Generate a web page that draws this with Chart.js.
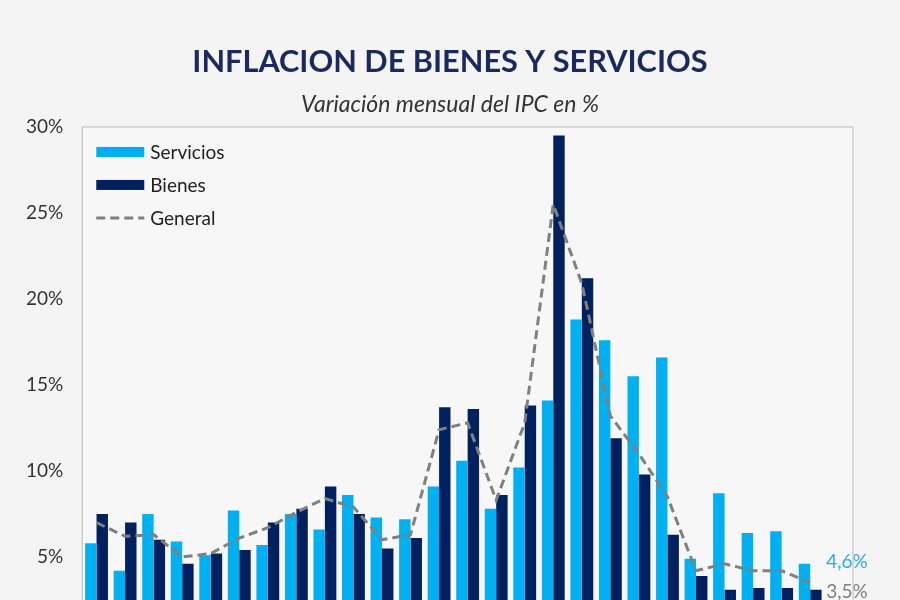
<!DOCTYPE html>
<html lang="es">
<head>
  <meta charset="UTF-8">
  <title>Inflacion de bienes y servicios</title>
  <script src="https://cdn.jsdelivr.net/npm/chart.js"></script>
  <style>
    html, body {
      margin: 0;
      padding: 0;
      background-color: #f4f4f4;
      overflow: hidden;
    }

    #wrap {
      width: 900px;
      height: 680px;
    }
  </style>
</head>
<body>
  <div id="wrap"><canvas id="ipcChart"></canvas></div>

  <script>
    // meses (el ultimo queda vacio, como en el original)
    const meses = ['ago-22', 'sep-22', 'oct-22', 'nov-22', 'dic-22', 'ene-23', 'feb-23', 'mar-23',
      'abr-23', 'may-23', 'jun-23', 'jul-23', 'ago-23', 'sep-23', 'oct-23', 'nov-23', 'dic-23',
      'ene-24', 'feb-24', 'mar-24', 'abr-24', 'may-24', 'jun-24', 'jul-24', 'ago-24', 'sep-24', ''];

    const servicios = [5.8, 4.2, 7.5, 5.9, 5.1, 7.7, 5.7, 7.5, 6.6, 8.6, 7.3, 7.2, 9.1, 10.6, 7.8, 10.2,
      14.1, 18.8, 17.6, 15.5, 16.6, 4.9, 8.7, 6.4, 6.5, 4.6, null];
    const bienes = [7.5, 7.0, 6.0, 4.6, 5.2, 5.4, 7.0, 7.8, 9.1, 7.5, 5.5, 6.1, 13.7, 13.6, 8.6, 13.8,
      29.5, 21.2, 11.9, 9.8, 6.3, 3.9, 3.1, 3.2, 3.2, 3.1, null];
    const general = [7.0, 6.2, 6.3, 5.0, 5.2, 6.1, 6.7, 7.6, 8.4, 7.9, 6.0, 6.3, 12.4, 12.8, 8.3, 12.8,
      25.5, 20.9, 13.2, 11.0, 8.5, 4.2, 4.6, 4.2, 4.2, 3.5, null];

    const yMin = 0;
    const yMax = 30;
    const yStep = 5;

    const FONT = 'Lato';
    const celeste = '#00b0f0';
    const azul = '#002060';
    const gris = '#808080';

    const fmt = v => v.toFixed(1).replace('.', ',') + '%';

    // fondo y marco del area del grafico
    const frame = {
      id: 'frame',
      beforeDraw(chart) {
        const { ctx, chartArea: a } = chart;
        ctx.save();
        ctx.fillStyle = '#f7f7f7';
        ctx.fillRect(a.left, a.top, a.right - a.left, a.bottom - a.top);
        ctx.restore();
      },
      afterDraw(chart) {
        const { ctx, chartArea: a } = chart;
        ctx.save();
        ctx.strokeStyle = '#c4c4c4';
        ctx.lineWidth = 1.2;
        ctx.strokeRect(a.left, a.top, a.right - a.left, a.bottom - a.top);
        ctx.restore();
      }
    };

    // leyenda dentro del area, arriba a la izquierda
    const innerLegend = {
      id: 'innerLegend',
      afterDraw(chart) {
        const { ctx, chartArea: a } = chart;
        const x0 = a.left + 14;
        const w = 48;
        ctx.save();
        ctx.font = '19px ' + FONT;
        ctx.textBaseline = 'middle';
        chart.data.datasets.slice().sort((p, q) => p.legendPos - q.legendPos).forEach((ds, i) => {
          const y = a.top + 25 + i * 33;
          if (ds.type === 'line') {
            ctx.strokeStyle = ds.borderColor;
            ctx.lineWidth = 3;
            ctx.setLineDash(ds.borderDash);
            ctx.beginPath();
            ctx.moveTo(x0, y);
            ctx.lineTo(x0 + w, y);
            ctx.stroke();
            ctx.setLineDash([]);
          } else {
            ctx.fillStyle = ds.backgroundColor;
            ctx.fillRect(x0, y - 5, w, 10);
          }
          ctx.fillStyle = '#222';
          ctx.fillText(ds.label, x0 + w + 6, y + 1);
        });
        ctx.restore();
      }
    };

    // etiquetas del ultimo dato
    const endLabels = {
      id: 'endLabels',
      afterDatasetsDraw(chart) {
        const { ctx, scales: { x, y } } = chart;
        let last = general.length - 1;
        while (last > 0 && general[last] === null) last--;
        const px = x.getPixelForValue(last) + 16;
        ctx.save();
        ctx.font = '19px ' + FONT;
        ctx.textBaseline = 'middle';
        ctx.textAlign = 'left';
        ctx.fillStyle = '#29aee6';
        ctx.fillText(fmt(servicios[last]), px, y.getPixelForValue(servicios[last]) - 2);
        ctx.fillStyle = gris;
        ctx.fillText(fmt(general[last]), px, y.getPixelForValue(general[last]) + 9);
        ctx.restore();
      }
    };

    const ctx = document.getElementById('ipcChart').getContext('2d');
    new Chart(ctx, {
      data: {
        labels: meses,
        datasets: [
          {
            type: 'line',
            label: 'General',
            data: general,
            borderColor: gris,
            borderWidth: 3,
            borderDash: [9, 5],
            pointRadius: 0,
            fill: false,
            tension: 0,
            order: 0,
            legendPos: 2
          },
          {
            type: 'bar',
            label: 'Servicios',
            data: servicios,
            backgroundColor: celeste,
            categoryPercentage: 0.8,
            barPercentage: 1.0,
            order: 1,
            legendPos: 0
          },
          {
            type: 'bar',
            label: 'Bienes',
            data: bienes,
            backgroundColor: azul,
            categoryPercentage: 0.8,
            barPercentage: 1.0,
            order: 2,
            legendPos: 1
          }
        ]
      },
      options: {
        responsive: true,
        maintainAspectRatio: false,
        animation: false,
        layout: {
          padding: { left: 7, right: 7, top: 0, bottom: 29 }
        },
        plugins: {
          legend: { display: false },
          tooltip: { enabled: false },
          title: {
            display: true,
            text: 'INFLACION DE BIENES Y SERVICIOS',
            color: '#1b2a5e',
            font: { family: FONT, size: 30.7, weight: 'bold' },
            padding: { top: 44, bottom: 9.5 }
          },
          subtitle: {
            display: true,
            text: 'Variación mensual del IPC en %',
            color: '#333',
            font: { family: FONT, size: 23, style: 'italic' },
            padding: { top: 0, bottom: 9 }
          }
        },
        scales: {
          x: {
            grid: { display: false },
            border: { display: false },
            ticks: { display: false }
          },
          y: {
            min: yMin,
            max: yMax,
            grid: { display: false, drawTicks: false },
            border: { display: false },
            ticks: {
              stepSize: yStep,
              padding: 19,
              color: '#333',
              font: { family: FONT, size: 19 },
              callback: v => v + '%'
            }
          },
          // eje vacio a la derecha: deja el hueco para las etiquetas finales
          // y mantiene el titulo centrado en la pagina
          yDer: {
            position: 'right',
            min: yMin,
            max: yMax,
            grid: { display: false, drawTicks: false },
            border: { display: false },
            ticks: { display: false },
            afterFit: scale => { scale.width = 40; }
          }
        }
      },
      plugins: [frame, innerLegend, endLabels]
    });
  </script>
</body>
</html>
